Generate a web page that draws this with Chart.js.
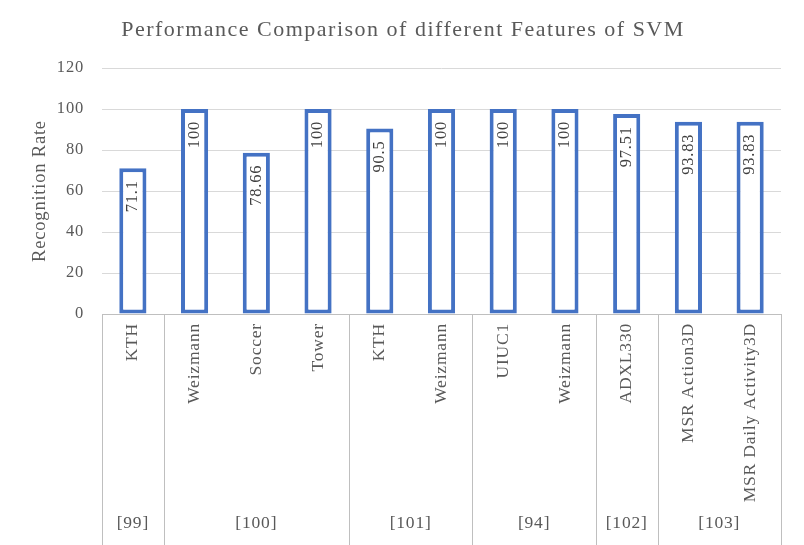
<!DOCTYPE html>
<html>
<head>
<meta charset="utf-8">
<script src="https://cdn.jsdelivr.net/npm/chart.js@4"></script>
<style>
    html, body { margin: 0; padding: 0; background: #ffffff; }
    #wrap { width: 804px; height: 545px; position: relative; }
</style>
</head>
<body>
<div id="wrap"><canvas id="chart"></canvas></div>
<script>
// Chart data
const chart_title = "Performance Comparison of different Features of SVM";
const datasets_names = ["KTH", "Weizmann", "Soccer", "Tower", "KTH", "Weizmann", "UIUC1", "Weizmann", "ADXL330", "MSR Action3D", "MSR Daily Activity3D"];
const recognition_rate = [71.1, 100, 78.66, 100, 90.5, 100, 100, 100, 97.51, 93.83, 93.83];
const group_names = ["[99]", "[100]", "[101]", "[94]", "[102]", "[103]"];
const group_sizes = [1, 3, 2, 2, 1, 2];
const y_ticks = [0, 20, 40, 60, 80, 100, 120];

const fontFamily = "'Liberation Serif', 'Times New Roman', serif";
const greyText = "#595959";
const lineGrey = "#bfbfbf";

// Excel-like text spacing for everything drawn on the canvas
const spacing = {
    id: 'spacing',
    beforeDraw(chart) {
        chart.ctx.letterSpacing = "0.8px";
    }
};

// Title drawn by hand so it can use wider letter spacing
const titleText = {
    id: 'titleText',
    afterDraw(chart) {
        const ctx = chart.ctx;
        ctx.save();
        ctx.letterSpacing = "1.5px";
        ctx.font = "22px " + fontFamily;
        ctx.fillStyle = greyText;
        ctx.textAlign = "center";
        ctx.textBaseline = "middle";
        ctx.fillText(chart_title, chart.width / 2 + 1, 30);
        ctx.restore();
    }
};

// Rotated value labels inside the top of each bar
const valueLabels = {
    id: 'valueLabels',
    afterDatasetsDraw(chart) {
        const ctx = chart.ctx;
        const meta = chart.getDatasetMeta(0);
        ctx.save();
        ctx.letterSpacing = "0.8px";
        ctx.font = "16.5px " + fontFamily;
        ctx.fillStyle = "#404040";
        ctx.textAlign = "right";
        ctx.textBaseline = "middle";
        meta.data.forEach((bar, i) => {
            ctx.save();
            ctx.translate(bar.x, bar.y + 12);
            ctx.rotate(-Math.PI / 2);
            ctx.fillText(String(recognition_rate[i]), 0, 0);
            ctx.restore();
        });
        ctx.restore();
    }
};

// Group separators and group labels under the category axis
const groupAxis = {
    id: 'groupAxis',
    afterDraw(chart) {
        const ctx = chart.ctx;
        const x = chart.scales.x;
        const area = chart.chartArea;
        const step = (area.right - area.left) / datasets_names.length;
        ctx.save();
        ctx.letterSpacing = "0.8px";
        ctx.strokeStyle = lineGrey;
        ctx.lineWidth = 1;
        ctx.font = "17.5px " + fontFamily;
        ctx.fillStyle = greyText;
        ctx.textAlign = "center";
        ctx.textBaseline = "middle";
        let start = 0;
        const edges = [area.left];
        group_sizes.forEach((size, g) => {
            const left = x.getPixelForValue(start) - step / 2;
            const right = x.getPixelForValue(start + size - 1) + step / 2;
            edges.push(right);
            ctx.fillText(group_names[g], (left + right) / 2, 523);
            start += size;
        });
        edges.forEach(ex => {
            const px = Math.round(ex) + 0.5;
            ctx.beginPath();
            ctx.moveTo(px, area.bottom);
            ctx.lineTo(px, chart.height);
            ctx.stroke();
        });
        ctx.restore();
    }
};

new Chart(document.getElementById('chart'), {
    type: 'bar',
    data: {
        labels: datasets_names,
        datasets: [{
            data: recognition_rate,
            backgroundColor: "#ffffff",
            borderColor: "#4472C4",
            borderWidth: 4,
            borderSkipped: false,
            categoryPercentage: 1.0,
            barPercentage: 0.44
        }]
    },
    options: {
        responsive: true,
        maintainAspectRatio: false,
        animation: false,
        layout: { padding: { left: 0, right: 23, top: 68, bottom: 0 } },
        plugins: {
            legend: { display: false },
            tooltip: { enabled: false },
            title: { display: false }
        },
        scales: {
            x: {
                grid: { display: false, drawTicks: false },
                border: { display: true, color: lineGrey, width: 1 },
                ticks: {
                    color: greyText,
                    font: { family: fontFamily, size: 17.5 },
                    minRotation: 90,
                    maxRotation: 90,
                    autoSkip: false,
                    padding: 9
                },
                afterFit(scale) { scale.height = 231; }
            },
            y: {
                min: 0,
                max: 120,
                afterBuildTicks(scale) { scale.ticks = y_ticks.map(v => ({ value: v })); },
                grid: { color: "#d9d9d9", lineWidth: 1, drawTicks: false },
                border: { display: false },
                ticks: {
                    color: greyText,
                    font: { family: fontFamily, size: 16.5 },
                    padding: 18
                },
                title: {
                    display: true,
                    text: "Recognition Rate",
                    color: greyText,
                    font: { family: fontFamily, size: 18.5 },
                    padding: { top: 29, bottom: 0 }
                },
                afterFit(scale) { scale.width = 102; }
            }
        }
    },
    plugins: [spacing, titleText, valueLabels, groupAxis]
});
</script>
</body>
</html>
